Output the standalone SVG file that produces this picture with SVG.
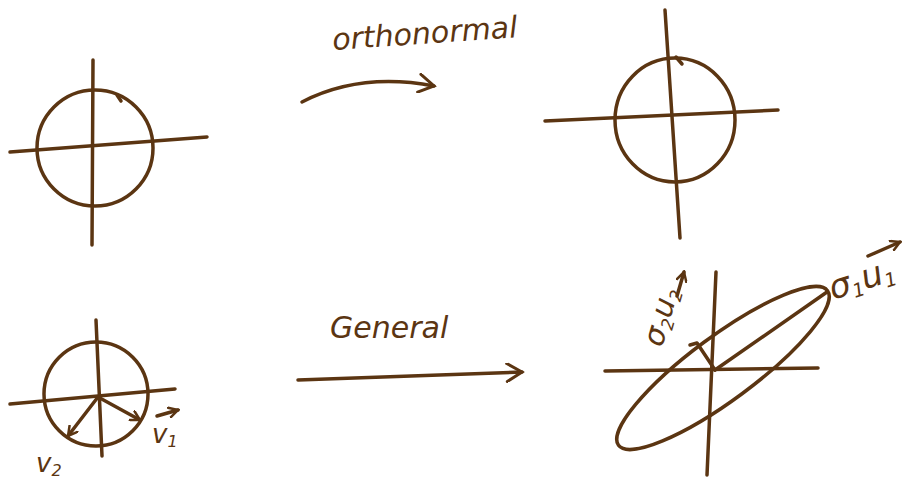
<svg xmlns="http://www.w3.org/2000/svg" width="907" height="483" viewBox="0 0 907 483">
<style>
.ink{fill:none;stroke:#5b3512;stroke-width:3.5;stroke-linecap:round;stroke-linejoin:round}
.lbl{fill:#5b3512;font-family:"DejaVu Sans",sans-serif;font-style:italic}
</style>
<defs>
<marker id="ah" viewBox="0 0 12 12" refX="10" refY="6" markerWidth="12" markerHeight="12" markerUnits="userSpaceOnUse" orient="auto">
<path d="M1,1 L10,6 L1,11" fill="none" stroke="#5b3512" stroke-width="2.5" stroke-linecap="round"/>
</marker>
<marker id="big" viewBox="0 0 20 20" refX="17" refY="10" markerWidth="20" markerHeight="20" markerUnits="userSpaceOnUse" orient="auto">
<path d="M2,1 L17,10 L2,19" fill="none" stroke="#5b3512" stroke-width="3" stroke-linecap="round"/>
</marker>
</defs>
<rect width="907" height="483" fill="#ffffff"/>

<g id="circle-top-left">
<circle class="ink" cx="95" cy="148" r="58"/>
<path class="ink" d="M10,152 L207,137"/>
<path class="ink" d="M93,60 L92,245"/>
<path class="ink" d="M117,95 L121,101"/>
</g>

<g id="circle-top-right">
<ellipse class="ink" cx="675" cy="120" rx="60" ry="62"/>
<path class="ink" d="M545,121 L778,110"/>
<path class="ink" d="M665,10 L680,238"/>
<path class="ink" d="M676,57 L682,64"/>
</g>

<g id="circle-bottom-left">
<circle class="ink" cx="96" cy="394" r="52"/>
<path class="ink" d="M10,404 L175,389"/>
<path class="ink" d="M96,320 L102,456"/>
<path class="ink" d="M98,397 L68,436" marker-end="url(#ah)"/>
<path class="ink" d="M98,397 L140,420" marker-end="url(#ah)"/>
<text class="lbl" x="152" y="443" font-size="26">v<tspan font-size="16" dy="4">1</tspan></text>
<path class="ink" d="M157,416 L178,410" stroke-width="2.5" marker-end="url(#ah)"/>
<text class="lbl" x="36" y="472" font-size="26">v<tspan font-size="16" dy="4">2</tspan></text>
</g>

<g id="ellipse-bottom-right">
<ellipse class="ink" cx="723" cy="368" rx="130" ry="32" transform="rotate(-36.5 723 368)"/>
<path class="ink" d="M605,371 L818,368"/>
<path class="ink" d="M716,272 L707,475"/>
<path class="ink" d="M715,370 L827,292" stroke-width="6"/>
<path class="ink" d="M715,370 L697,343 L690,345"/>
<text class="lbl" font-size="30" transform="translate(662,348) rotate(-74)">σ<tspan font-size="17" dy="5">2</tspan><tspan dy="-5">u</tspan><tspan font-size="17" dy="5">2</tspan></text>
<path class="ink" d="M677,296 L684,272" stroke-width="2.5" marker-end="url(#ah)"/>
<text class="lbl" font-size="34" transform="translate(833,300) rotate(-18)">σ<tspan font-size="19" dy="5">1</tspan><tspan dy="-5">u</tspan><tspan font-size="19" dy="5">1</tspan></text>
<path class="ink" d="M868,256 L900,242" stroke-width="2.5" marker-end="url(#ah)"/>
</g>

<g id="connectors">
<path class="ink" d="M302,102 Q360,72 434,86" marker-end="url(#big)"/>
<path class="ink" d="M298,380 L522,372" marker-end="url(#big)"/>
</g>

<g id="labels">
<text class="lbl" font-size="30" transform="translate(333,50) rotate(-4)">orthonormal</text>
<text class="lbl" font-size="30" x="330" y="338">General</text>
</g>
</svg>
